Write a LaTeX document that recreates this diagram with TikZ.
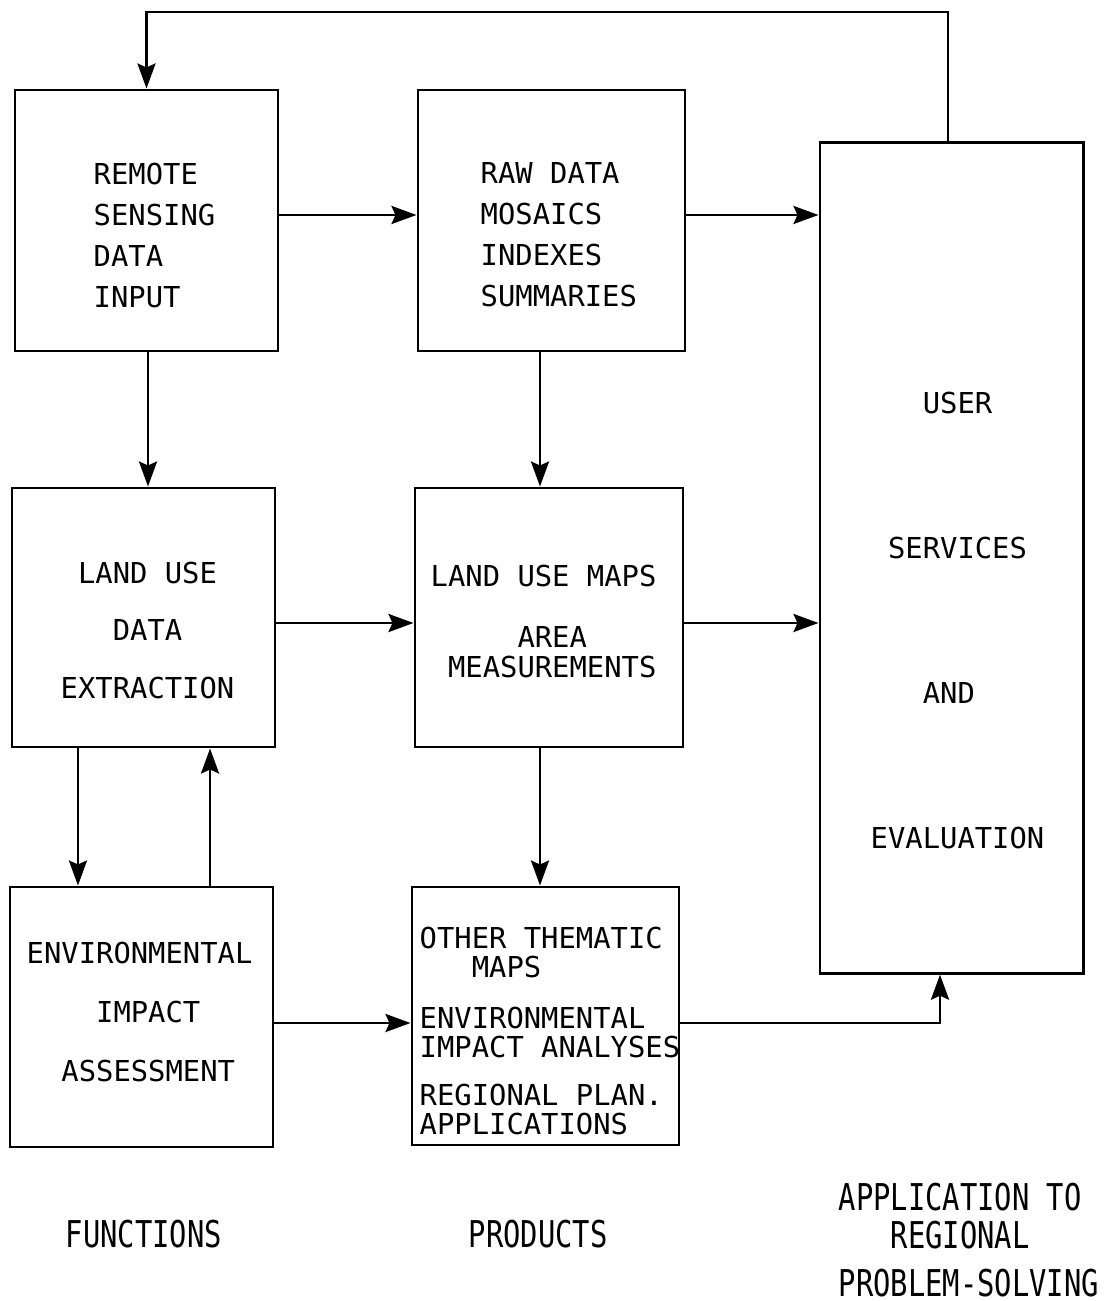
\documentclass[tikz,border=0pt]{standalone}
\usepackage{fontspec}
\usepackage{tikz}
\usetikzlibrary{arrows.meta}
\newfontfamily\boxfont{DejaVu Sans Mono}
\newfontfamily\capfont[FakeStretch=0.78]{DejaVu Sans Mono}
\newcommand{\ind}[1]{\phantom{#1}}

\begin{document}
\begin{tikzpicture}[x=0.01cm,y=-0.01cm,
	blk/.style={draw,line width=0.8pt,inner sep=0pt},
	lbl/.style={anchor=north west,align=left,inner sep=0pt},
	arr/.style={line width=0.8pt,-{Stealth[length=0.25cm,width=0.18cm,inset=0.04cm]}}]
	
	\useasboundingbox (0,0) rectangle (1105,1301);
	
	% boxes
	\node[blk,minimum width=2.63cm,minimum height=2.61cm] (remote) at (146.5,220.5) {};
	\node[blk,minimum width=2.67cm,minimum height=2.61cm] (raw) at (551.5,220.5) {};
	\node[blk,minimum width=2.63cm,minimum height=8.30cm] (user) at (951.5,558) {};
	\node[blk,minimum width=2.63cm,minimum height=2.59cm] (land) at (143.5,617.5) {};
	\node[blk,minimum width=2.68cm,minimum height=2.59cm] (maps) at (549,617.5) {};
	\node[blk,minimum width=2.63cm,minimum height=2.60cm] (env) at (141.5,1017) {};
	\node[blk,minimum width=2.67cm,minimum height=2.58cm] (other) at (545.5,1016) {};
	
	% box texts
	\node[lbl,font={\boxfont\fontsize{8.2}{11.66}\selectfont}] (remote-txt) at (93,162)
		{REMOTE\\SENSING\\DATA\\INPUT};
	\node[lbl,font={\boxfont\fontsize{8.2}{11.66}\selectfont}] (raw-txt) at (480,162)
		{RAW DATA\\MOSAICS\\INDEXES\\SUMMARIES};
	\node[lbl,font={\boxfont\fontsize{8.2}{16.36}\selectfont}] (land-txt) at (60,561)
		{\ind{E}LAND USE\\\ind{EXT}DATA\\EXTRACTION};
	\node[lbl,font={\boxfont\fontsize{8.2}{8.54}\selectfont}] (maps-txt) at (430,564)
		{LAND USE MAPS\\[8.8pt]\ind{LAND }AREA\\\ind{L}MEASUREMENTS};
	\node[lbl,font={\boxfont\fontsize{8.2}{16.8}\selectfont}] (env-txt) at (26,941)
		{ENVIRONMENTAL\\\ind{ENVI}IMPACT\\\ind{EN}ASSESSMENT};
	\node[lbl,font={\boxfont\fontsize{8.2}{8.25}\selectfont}] (other-txt) at (419,926)
		{OTHER THEMATIC\\\ind{OTH}MAPS\\[6.3pt]ENVIRONMENTAL\\IMPACT ANALYSES\\[5.4pt]REGIONAL PLAN.\\APPLICATIONS};
	\node[lbl,font={\boxfont\fontsize{8.2}{41.25}\selectfont}] (user-txt) at (870,391)
		{\ind{EVA}USER\\\ind{E}SERVICES\\\ind{EVA}AND\\EVALUATION};
	
	% column captions
	\node[lbl,font={\capfont\fontsize{10.5}{10.8}\selectfont}] (functions) at (65,1219) {FUNCTIONS};
	\node[lbl,font={\capfont\fontsize{10.5}{10.8}\selectfont}] (products) at (468,1219) {PRODUCTS};
	\node[lbl,font={\capfont\fontsize{10.5}{10.8}\selectfont}] (application) at (838,1182)
		{APPLICATION TO\\\ind{APP}REGIONAL\\[3.1pt]PROBLEM-SOLVING};
	
	% connectors
	\coordinate (loop) at (550,12);
	\draw[arr] ([xshift=-.035cm]user.north) |- (loop) -| (remote.north);
	
	\draw[arr] ([yshift=.055cm]remote.east) coordinate (a1) -- (a1 -| raw.west);
	\draw[arr] ([yshift=.055cm]raw.east) coordinate (a2) -- (a2 -| user.west);
	\draw[arr] ([xshift=.015cm]remote.south) coordinate (a3) -- (a3 |- land.north);
	\draw[arr] ([xshift=-.115cm]raw.south) coordinate (a4) -- (a4 |- maps.north);
	\draw[arr] ([yshift=-.055cm]land.east) coordinate (a5) -- (a5 -| maps.west);
	\draw[arr] ([yshift=-.055cm]maps.east) coordinate (a6) -- (a6 -| user.west);
	\draw[arr] ([xshift=-.655cm]land.south) coordinate (a7) -- (a7 |- env.north);
	\draw[arr] ([xshift=.685cm]env.north) coordinate (a8) -- (a8 |- land.south);
	\draw[arr] ([xshift=-.09cm]maps.south) coordinate (a9) -- (a9 |- other.north);
	\draw[arr] ([yshift=-.06cm]env.east) coordinate (a10) -- (a10 -| other.west);
	\draw[arr] ([yshift=-.07cm]other.east) -| ([xshift=-.115cm]user.south);
	
\end{tikzpicture}
\end{document}
